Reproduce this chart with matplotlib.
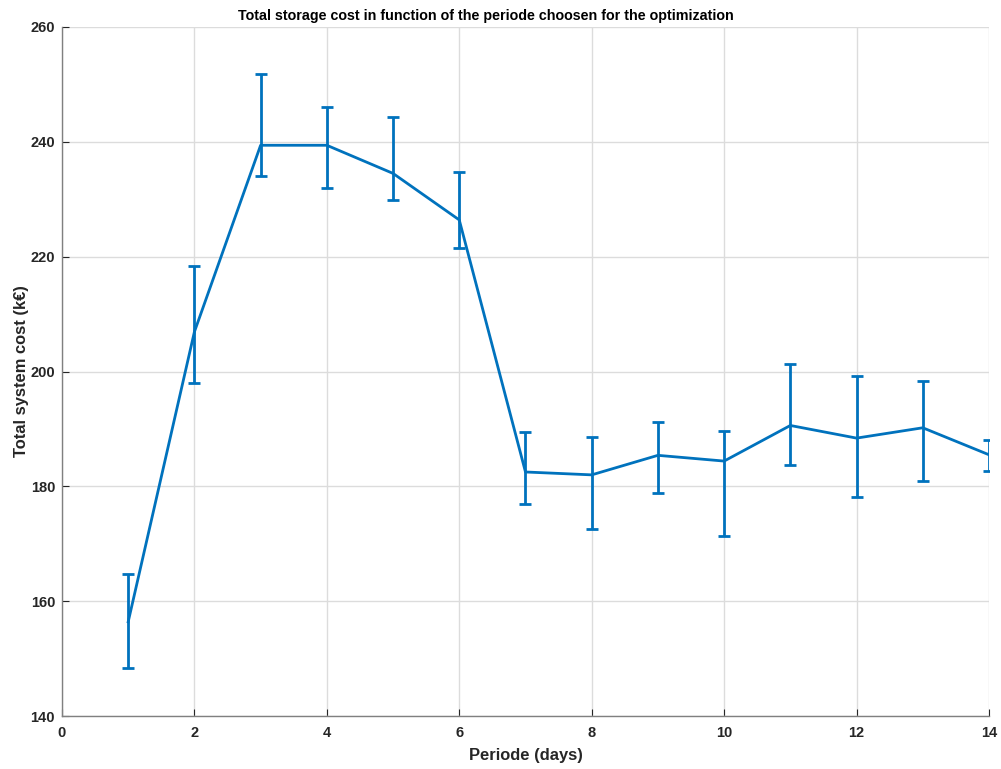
import matplotlib.pyplot as plt
import numpy as np

plt.rcParams['font.family'] = ['Liberation Sans', 'DejaVu Sans']
plt.rcParams['font.weight'] = 'bold'

# data
periode = [1, 2, 3, 4, 5, 6, 7, 8, 9, 10, 11, 12, 13, 14]
cost = [156.4, 206.9, 239.4, 239.4, 234.5, 226.4, 182.5, 182.0, 185.4, 184.4, 190.6, 188.4, 190.2, 185.5]
upper = [164.7, 218.4, 251.9, 246.0, 244.3, 234.7, 189.4, 188.6, 191.2, 189.6, 201.3, 199.2, 198.3, 188.1]
lower = [148.3, 198.0, 234.0, 231.9, 229.8, 221.5, 177.0, 172.6, 178.8, 171.3, 183.7, 178.1, 181.0, 182.6]

cost = np.array(cost)
err = [cost - np.array(lower), np.array(upper) - cost]

fig = plt.figure(figsize=(10.01, 7.69), dpi=100)
ax = fig.add_axes([0.0619, 0.0689, 0.9261, 0.896])

ax.errorbar(periode, cost, yerr=err, color='#0072BD', linewidth=2,
            elinewidth=2, capsize=4, capthick=2)

ax.set_xlim(0, 14)
ax.set_ylim(140, 260)
ax.set_xticks(range(0, 15, 2))
ax.set_yticks(range(140, 261, 20))
ax.grid(True, color='#dcdcdc', linewidth=1)
ax.set_axisbelow(True)

for s in ['top', 'right']:
    ax.spines[s].set_visible(False)
for s in ['left', 'bottom']:
    ax.spines[s].set_color('#808080')
    ax.spines[s].set_linewidth(1)
ax.tick_params(direction='in', length=5, color='#262626', labelsize=10.5, labelcolor='#262626')
ax.tick_params(axis='x', pad=7)
ax.tick_params(axis='y', pad=5)
for lab in ax.get_xticklabels() + ax.get_yticklabels():
    lab.set_fontweight('bold')

# title sits a bit left of the axes centre in the original
ax.text(0.457, 1.006, "Total storage cost in function of the periode choosen for the optimization",
        transform=ax.transAxes, ha='center', va='bottom', fontsize=10.3, fontweight='bold')
ax.set_xlabel("Periode (days)", fontsize=11.9, fontweight='bold', color='#262626', va='center')
ax.set_ylabel("Total system cost (k€)", fontsize=11.9, fontweight='bold', color='#262626', va='center')
ax.xaxis.set_label_coords(0.5, -0.0566)
ax.yaxis.set_label_coords(-0.044, 0.5)

fig.savefig('out.png')
